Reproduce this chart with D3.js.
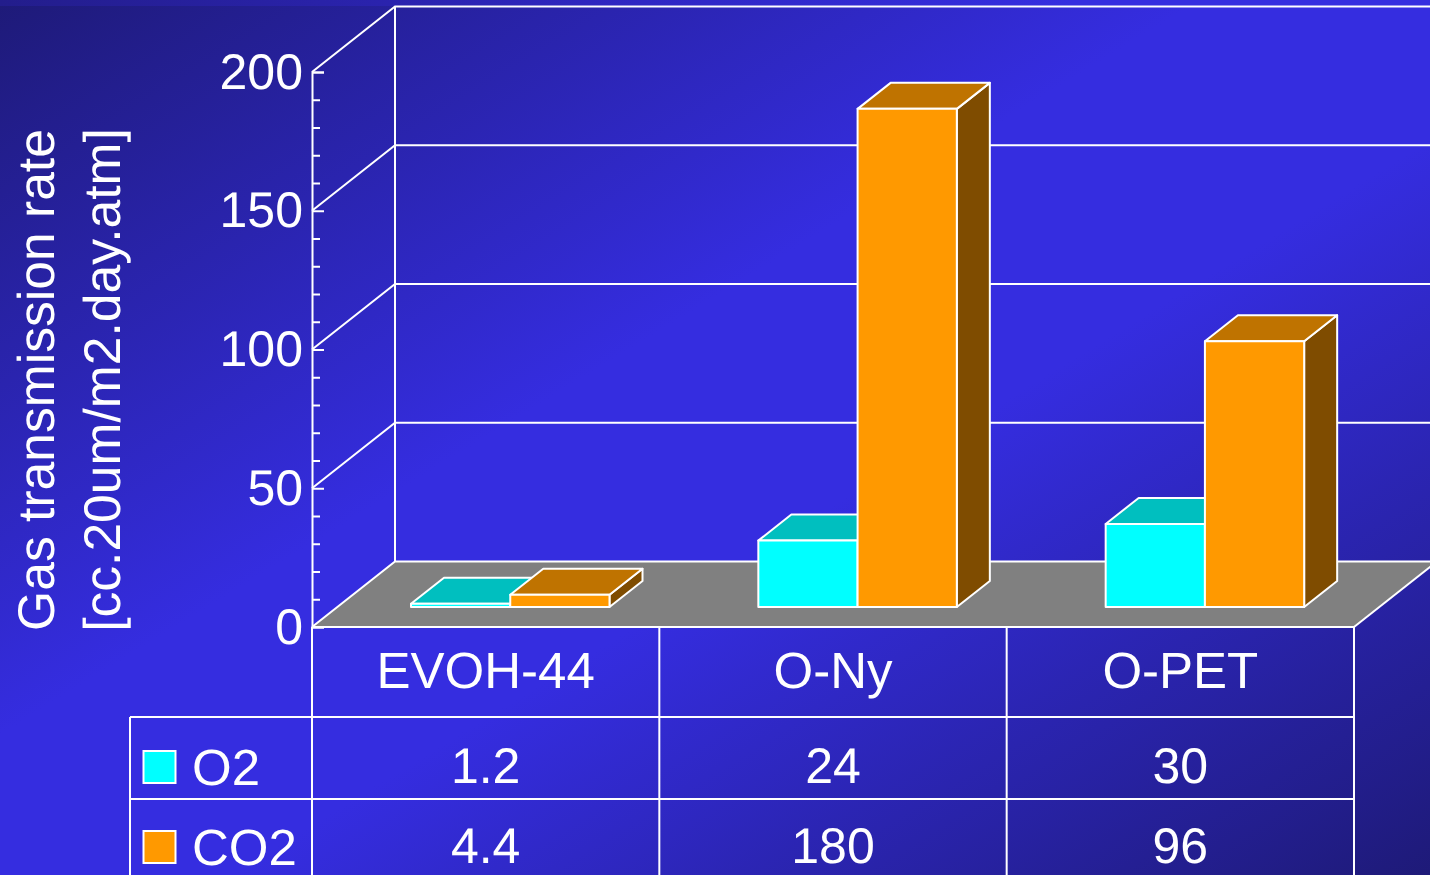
<!DOCTYPE html>
<html>
<head>
<meta charset="utf-8">
<script src="https://cdn.jsdelivr.net/npm/d3@7"></script>
<style>
  html, body { margin: 0; padding: 0; overflow: hidden; background: #352ee0; }
  text { font-family: "Liberation Sans", Arial, sans-serif; fill: #fff; text-rendering: geometricPrecision; }
</style>
</head>
<body>
<div id="chart"></div>
<script>
// values
const categories = ["EVOH-44", "O-Ny", "O-PET"]
const seriesNames = ["O2", "CO2"]
const o2Values = [1.2, 24, 30]
const co2Values = [4.4, 180, 96]
const majorTicks = [0, 50, 100, 150, 200]
const minorTicks = [10, 20, 30, 40, 60, 70, 80, 90, 110, 120, 130, 140, 160, 170, 180, 190]
const axisTitle = ["Gas transmission rate", "[cc.20um/m2.day.atm]"]

const width = 1430
const height = 875

// the 3d box: front plane and how far the back wall is pushed
const plot = { left: 312, right: 1354, top: 72, bottom: 627 }
const depth = { x: 83, y: -65.5 }
const barDepth = { x: 33, y: -26 }
const barBase = 607 // bars stand a bit behind the front edge of the floor
const lineW = 2

const colors = {
    O2: { front: "#00ffff", top: "#00bfbf" },
    CO2: { front: "#ff9900", top: "#bf7300", side: "#7f4c00" }
}

const svg = d3.select("#chart").append("svg")
    .attr("width", width)
    .attr("height", height)
    .style("display", "block")

// background
const defs = svg.append("defs")
const grad = defs.append("linearGradient")
    .attr("id", "bg")
    .attr("x1", 0).attr("y1", 0).attr("x2", 1).attr("y2", 1)
grad.append("stop").attr("offset", "0%").attr("stop-color", "#1e1a78")
grad.append("stop").attr("offset", "42%").attr("stop-color", "#352de0")
grad.append("stop").attr("offset", "58%").attr("stop-color", "#352de0")
grad.append("stop").attr("offset", "100%").attr("stop-color", "#1e1a78")

// thin lighter strip along the very top of the slide
const strip = defs.append("linearGradient").attr("id", "strip")
strip.append("stop").attr("offset", "0%").attr("stop-color", "#231d8c")
strip.append("stop").attr("offset", "45%").attr("stop-color", "#2f27c4")
strip.append("stop").attr("offset", "75%").attr("stop-color", "#352ee0")

svg.append("rect")
    .attr("width", width)
    .attr("height", height)
    .attr("fill", "url(#bg)")
svg.append("rect")
    .attr("width", width)
    .attr("height", 6)
    .attr("fill", "url(#strip)")

// scales
const x = d3.scaleBand().domain(categories).range([plot.left, plot.right])
const y = d3.scaleLinear().domain([0, 200]).range([plot.bottom, plot.top])
const yBar = d3.scaleLinear().domain([0, 200]).range([barBase, barBase - 553.5])
const inner = d3.scaleBand().domain(seriesNames).range([99, 297.5])

const line = d3.line()

// grey floor
svg.append("path")
    .attr("d", line([
        [plot.left, plot.bottom],
        [plot.left + depth.x, plot.bottom + depth.y],
        [plot.right + depth.x, plot.bottom + depth.y],
        [plot.right, plot.bottom]
    ]) + "Z")
    .attr("fill", "#808080")

const wall = svg.append("g")
    .attr("fill", "none")
    .attr("stroke", "#fff")
    .attr("stroke-width", lineW)

// gridlines on the back wall and the side wall
majorTicks.forEach(t => {
    wall.append("path").attr("d", line([
        [plot.left, y(t)],
        [plot.left + depth.x, y(t) + depth.y],
        [plot.right + depth.x, y(t) + depth.y]
    ]))
})
wall.append("path").attr("d", line([
    [plot.left + depth.x, y(200) + depth.y],
    [plot.left + depth.x, y(0) + depth.y]
]))
wall.append("path").attr("d", line([
    [plot.right, plot.bottom],
    [plot.right + depth.x, plot.bottom + depth.y]
]))

// bars
const bars = []
categories.forEach((c, i) => {
    bars.push({ cat: c, name: "O2", value: o2Values[i] })
    bars.push({ cat: c, name: "CO2", value: co2Values[i] })
})

const barGroups = svg.selectAll(".bar")
    .data(bars)
    .enter()
    .append("g")
    .attr("class", "bar")
    .attr("stroke", "#fff")
    .attr("stroke-width", lineW)
    .attr("stroke-linejoin", "round")

// side face first, the next bar in the group covers it
barGroups.append("path")
    .attr("d", d => {
        const x1 = x(d.cat) + inner(d.name) + inner.bandwidth()
        const t = yBar(d.value)
        return line([[x1, barBase], [x1 + barDepth.x, barBase + barDepth.y], [x1 + barDepth.x, t + barDepth.y], [x1, t]]) + "Z"
    })
    .attr("fill", colors.CO2.side)

barGroups.append("path")
    .attr("d", d => {
        const x0 = x(d.cat) + inner(d.name)
        const x1 = x0 + inner.bandwidth()
        const t = yBar(d.value)
        return line([[x0, t], [x0 + barDepth.x, t + barDepth.y], [x1 + barDepth.x, t + barDepth.y], [x1, t]]) + "Z"
    })
    .attr("fill", d => colors[d.name].top)

barGroups.append("rect")
    .attr("x", d => x(d.cat) + inner(d.name))
    .attr("y", d => yBar(d.value))
    .attr("width", inner.bandwidth())
    .attr("height", d => barBase - yBar(d.value))
    .attr("fill", d => colors[d.name].front)

// y axis
const yAxis = d3.axisLeft(y)
    .tickValues(majorTicks)
    .tickSize(-12)
const yMinor = d3.axisLeft(y)
    .tickValues(minorTicks)
    .tickSize(-8)
    .tickFormat("")

svg.append("g")
    .attr("transform", "translate(" + plot.left + ",0)")
    .call(yMinor)
    .call(g => g.select(".domain").remove())
    .selectAll("line").attr("stroke", "#fff").attr("stroke-width", lineW)

svg.append("g")
    .attr("class", "y-axis")
    .attr("transform", "translate(" + plot.left + ",0)")
    .call(yAxis)
    .call(g => g.select(".domain").attr("stroke", "#fff").attr("stroke-width", lineW))
    .call(g => g.selectAll("line").attr("stroke", "#fff").attr("stroke-width", lineW))
    .call(g => g.selectAll("text")
        .attr("x", -9)
        .attr("y", -2)
        .attr("dy", "0.36em")
        .style("font-size", "50px")
        .style("font-family", "'Liberation Sans', Arial, sans-serif")
        .attr("fill", "#fff"))

// axis title, two rotated lines
svg.selectAll(".axis-title")
    .data(axisTitle)
    .enter()
    .append("text")
    .attr("class", "axis-title")
    .text(d => d)
    .attr("transform", (d, i) => "translate(" + (54 + i * 66) + ",380) rotate(-90)")
    .attr("text-anchor", "middle")
    .style("font-size", "51.6px")

// data table under the chart
const rowLines = [717, 799]
const tableLines = svg.append("g").attr("stroke", "#fff").attr("stroke-width", lineW)

tableLines.append("line")
    .attr("x1", plot.left).attr("x2", plot.right)
    .attr("y1", plot.bottom).attr("y2", plot.bottom)
tableLines.selectAll(".row")
    .data(rowLines)
    .enter()
    .append("line")
    .attr("x1", 130).attr("x2", plot.right)
    .attr("y1", d => d).attr("y2", d => d)
tableLines.selectAll(".col")
    .data(categories.map(c => x(c)).concat(plot.right))
    .enter()
    .append("line")
    .attr("x1", d => d).attr("x2", d => d)
    .attr("y1", plot.bottom).attr("y2", height)
tableLines.append("line")
    .attr("x1", 130).attr("x2", 130)
    .attr("y1", rowLines[0]).attr("y2", height)

svg.selectAll(".cat-label")
    .data(categories)
    .enter()
    .append("text")
    .text(d => d)
    .attr("x", d => x(d) + x.bandwidth() / 2)
    .attr("y", 688)
    .attr("text-anchor", "middle")
    .style("font-size", "51px")

const rows = [
    { name: "O2", values: o2Values, base: 783, swatch: 751 },
    { name: "CO2", values: co2Values, base: 863, swatch: 831 }
]

rows.forEach(r => {
    svg.append("rect")
        .attr("x", 143.5)
        .attr("y", r.swatch)
        .attr("width", 32)
        .attr("height", 32)
        .attr("fill", colors[r.name].front)
        .attr("stroke", "#fff")
        .attr("stroke-width", lineW)
    svg.append("text")
        .text(r.name)
        .attr("x", 192)
        .attr("y", r.base + 2)
        .style("font-size", "51px")
    svg.selectAll(".val-" + r.name)
        .data(r.values)
        .enter()
        .append("text")
        .text(d => d)
        .attr("x", (d, i) => x(categories[i]) + x.bandwidth() / 2)
        .attr("y", r.base)
        .attr("text-anchor", "middle")
        .style("font-size", "50px")
})
</script>
</body>
</html>
